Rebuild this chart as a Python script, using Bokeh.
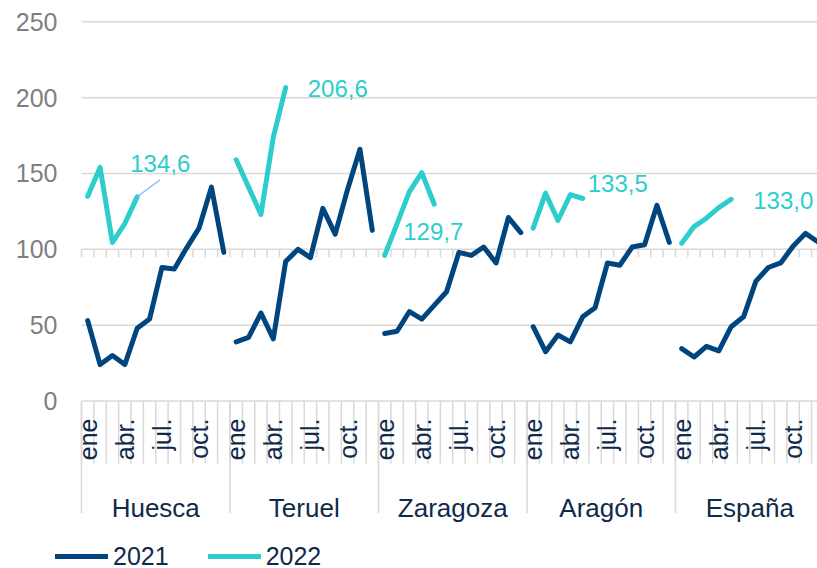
import math
from bokeh.plotting import figure
from bokeh.models import Range1d, Legend, LegendItem, ColumnDataSource
from bokeh.embed import file_html
from bokeh.resources import INLINE
from bokeh.core.properties import value

# ---------------- data ----------------
regions = ["Huesca", "Teruel", "Zaragoza", "Aragón", "España"]
months = ["ene", "feb", "mar", "abr.", "may", "jun", "jul.", "ago", "sep", "oct.", "nov", "dic"]
shown_months = ["ene", "abr.", "jul.", "oct."]
y_ticks = [0, 50, 100, 150, 200, 250]

v2021_huesca = [53, 24, 30, 24, 48, 54, 88, 87, 101, 114, 141, 98]
v2021_teruel = [39, 42, 58, 41, 92, 100, 94.5, 127, 110, 139.5, 166, 112.5]
v2021_zaragoza = [44.5, 46, 59, 54, 63, 72, 98, 96, 101.5, 91, 121, 111]
v2021_aragon = [49, 32.5, 43.5, 39, 55.5, 61.5, 91, 89.5, 101.5, 103, 129, 104.5]
v2021_espana = [34.5, 29, 36, 33, 49, 55.5, 79, 88, 91, 102, 110.5, 105]

v2022_huesca = [135, 154, 104.5, 117, 134.6]
v2022_teruel = [159, 141, 123, 174, 206.6]
v2022_zaragoza = [96, 117, 138, 150.5, 129.7]
v2022_aragon = [114, 137, 119, 136, 133.5]
v2022_espana = [104, 115, 120.5, 127.5, 133.0]

series2021 = [v2021_huesca, v2021_teruel, v2021_zaragoza, v2021_aragon, v2021_espana]
series2022 = [v2022_huesca, v2022_teruel, v2022_zaragoza, v2022_aragon, v2022_espana]

# ---------------- style / layout ----------------
C2021 = "#00457E"
C2022 = "#2ECDCD"
GRID = "#D9D9D9"
TXT = "#0F2A4A"
AXTXT = "#7F7F7F"
FONT = "Liberation Sans"

W, H = 817, 568
LEFT = 81            # pixel column where the category axis starts
PX_MONTH = 12.375    # px per month slot
Y0_PX = 400.5        # pixel row of value 0
PX_UNIT = 1.5168     # px per value unit

n_month = len(months)
n_total = n_month * len(regions)

x_start = -LEFT / PX_MONTH
x_end = (W - LEFT) / PX_MONTH
y_top = Y0_PX / PX_UNIT
y_bot = -(H - Y0_PX) / PX_UNIT

p = figure(width=W, height=H, output_backend="svg", toolbar_location=None,
           x_range=Range1d(x_start, x_end), y_range=Range1d(y_bot, y_top),
           x_axis_location=None, y_axis_location=None,
           min_border_left=0, min_border_right=0,
           min_border_top=0, min_border_bottom=0)
p.margin = (0, 0, 0, 0)
p.outline_line_color = None
p.background_fill_color = "white"
p.border_fill_color = "white"
p.xgrid.visible = False
p.ygrid.visible = False

# ---------------- value axis: gridlines and labels ----------------
p.segment(x0=[0] * len(y_ticks), y0=y_ticks, x1=[n_total] * len(y_ticks), y1=y_ticks,
          line_color=GRID, line_width=1.5)
p.text(x=[0] * len(y_ticks), y=y_ticks, text=[str(t) for t in y_ticks], x_offset=-24,
       text_align="right", text_baseline="middle", text_font=value(FONT),
       text_font_size="25px", text_color=AXTXT)

# ---------------- category axis decorations ----------------
bounds = list(range(n_total))
tick_len = 62.5 / PX_UNIT
p.segment(x0=bounds, y0=[0] * len(bounds), x1=bounds, y1=[-tick_len] * len(bounds),
          line_color=GRID, line_width=1.5)
group_bounds = [g * n_month for g in range(len(regions))]
sep_len = 112 / PX_UNIT
p.segment(x0=group_bounds, y0=[0] * len(group_bounds), x1=group_bounds,
          y1=[-sep_len] * len(group_bounds), line_color=GRID, line_width=1.5)
# secondary axis ticks at the 100 line
sec_len = 8 / PX_UNIT
p.segment(x0=bounds, y0=[100] * len(bounds), x1=bounds, y1=[100 - sec_len] * len(bounds),
          line_color=GRID, line_width=1.5)

mx, mt = [], []
for g in range(len(regions)):
    for m, name in enumerate(months):
        if name in shown_months:
            mx.append(g * n_month + m + 0.5)
            mt.append(name)
p.text(x=mx, y=[0] * len(mx), text=mt, angle=math.pi / 2, y_offset=17.5,
       text_align="right", text_baseline="middle", text_font=value(FONT),
       text_font_size="25px", text_color=TXT)

gx = [g * n_month + n_month / 2 for g in range(len(regions))]
p.text(x=gx, y=[0] * len(gx), text=regions, y_offset=106.5,
       text_align="center", text_baseline="alphabetic", text_font=value(FONT),
       text_font_size="26px", text_color=TXT)

# ---------------- lines ----------------
r2021, r2022 = [], []
for g, vals in enumerate(series2021):
    xs = [g * n_month + i + 0.5 for i in range(len(vals))]
    r2021.append(p.line(xs, vals, line_color=C2021, line_width=5,
                        line_cap="round", line_join="round"))
for g, vals in enumerate(series2022):
    xs = [g * n_month + i + 0.5 for i in range(len(vals))]
    r2022.append(p.line(xs, vals, line_color=C2022, line_width=5,
                        line_cap="round", line_join="round"))

# ---------------- data labels (last 2022 value) ----------------
label_offsets = [(-7, -33), (22, 1), (-31, 27), (5, -15), (22, 1)]
lx, ly, lt, ox, oy = [], [], [], [], []
for g, vals in enumerate(series2022):
    lx.append(g * n_month + len(vals) - 0.5)
    ly.append(vals[-1])
    lt.append(f"{vals[-1]:.1f}".replace(".", ","))
    ox.append(label_offsets[g][0])
    oy.append(label_offsets[g][1])
src = ColumnDataSource(dict(x=lx, y=ly, t=lt, ox=ox, oy=oy))
p.text(x="x", y="y", text="t", x_offset="ox", y_offset="oy", source=src,
       text_align="left", text_baseline="middle", text_font=value(FONT),
       text_font_size="24px", text_color=C2022)

# leader line for the Huesca label
hx = len(v2022_huesca) - 0.5
hy = v2022_huesca[-1]
p.segment(x0=[hx], y0=[hy], x1=[hx + 23 / PX_MONTH], y1=[hy + 17 / PX_UNIT],
          line_color="#7EB6F5", line_width=1.2)

# ---------------- legend ----------------
legend = Legend(items=[LegendItem(label="2021", renderers=[r2021[0]]),
                       LegendItem(label="2022", renderers=[r2022[0]])],
                orientation="horizontal", location=(55, -3),
                glyph_width=53, glyph_height=30, label_height=30,
                label_standoff=5, spacing=39, padding=0, margin=0,
                border_line_color=None, background_fill_alpha=0,
                label_text_font=FONT, label_text_font_size="25px",
                label_text_color=TXT)
p.add_layout(legend)

open("out.html", "w").write(file_html(p, INLINE))
